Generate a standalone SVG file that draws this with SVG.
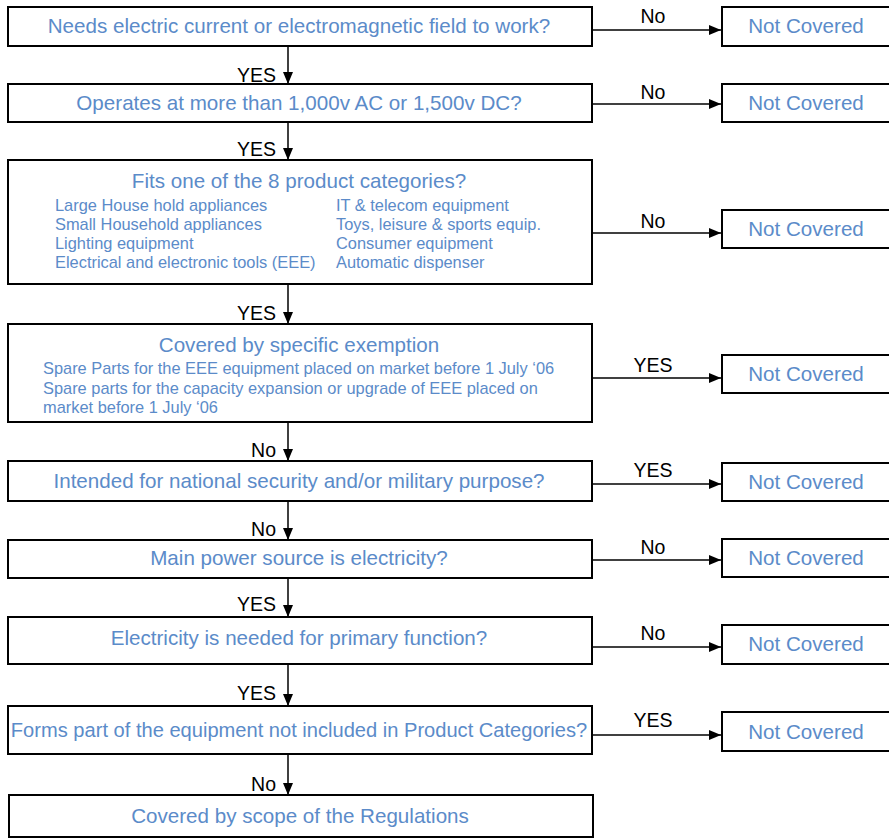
<svg xmlns="http://www.w3.org/2000/svg" width="889" height="838" viewBox="0 0 889 838">
<defs>
<marker id="ah" markerWidth="12" markerHeight="10" refX="12" refY="5" orient="auto" markerUnits="userSpaceOnUse">
<path d="M0,0 L12,5 L0,10 Z" fill="#000"/>
</marker>
<style>
.box{fill:#fff;stroke:#000;stroke-width:2}
.t{font-family:"Liberation Sans",Arial,sans-serif;font-size:20.6px;fill:#5b8bc9;text-anchor:middle}
.s{font-family:"Liberation Sans",Arial,sans-serif;font-size:16.4px;fill:#5b8bc9}
.l{font-family:"Liberation Sans",Arial,sans-serif;font-size:19.5px;fill:#000}
.le{text-anchor:end}
.lm{text-anchor:middle}
.c{stroke:#000;stroke-width:1.5;fill:none;marker-end:url(#ah)}
</style>
</defs>
<g id="q1"><rect class="box" x="8" y="7" width="584" height="39"/><text class="t" x="299" y="33">Needs electric current or electromagnetic field to work?</text></g>
<g id="q2"><rect class="box" x="8" y="84" width="584" height="38"/><text class="t" x="299" y="110">Operates at more than 1,000v AC or 1,500v DC?</text></g>
<g id="q3"><rect class="box" x="8" y="160" width="584" height="124"/><text class="t" x="299" y="188">Fits one of the 8 product categories?</text>
<text class="s" x="55" y="211">Large House hold appliances</text>
<text class="s" x="55" y="230">Small Household appliances</text>
<text class="s" x="55" y="249">Lighting equipment</text>
<text class="s" x="55" y="268">Electrical and electronic tools (EEE)</text>
<text class="s" x="336" y="211">IT &amp; telecom equipment</text>
<text class="s" x="336" y="230">Toys, leisure &amp; sports equip.</text>
<text class="s" x="336" y="249">Consumer equipment</text>
<text class="s" x="336" y="268">Automatic dispenser</text></g>
<g id="q4"><rect class="box" x="8" y="324" width="584" height="98"/><text class="t" x="299" y="352">Covered by specific exemption</text>
<text class="s" x="43" y="374">Spare Parts for the EEE equipment placed on market before 1 July ‘06</text>
<text class="s" x="43" y="394">Spare parts for the capacity expansion or upgrade of EEE placed on</text>
<text class="s" x="43" y="413">market before 1 July ‘06</text></g>
<g id="q5"><rect class="box" x="8" y="461" width="584" height="40"/><text class="t" x="299" y="488">Intended for national security and/or military purpose?</text></g>
<g id="q6"><rect class="box" x="8" y="540" width="584" height="38"/><text class="t" x="299" y="565">Main power source is electricity?</text></g>
<g id="q7"><rect class="box" x="8" y="617" width="584" height="47"/><text class="t" x="299" y="645">Electricity is needed for primary function?</text></g>
<g id="q8"><rect class="box" x="8" y="706" width="584" height="48"/><text class="t" x="299" y="737" style="font-size:20.1px">Forms part of the equipment not included in Product Categories?</text></g>
<g id="end"><rect class="box" x="9" y="795" width="584" height="42"/><text class="t" x="300" y="823">Covered by scope of the Regulations</text></g>
<g id="n1"><rect class="box" x="722" y="7" width="180" height="39"/><text class="t" x="806" y="33">Not Covered</text></g>
<g id="n2"><rect class="box" x="722" y="84" width="180" height="38"/><text class="t" x="806" y="110">Not Covered</text></g>
<g id="n3"><rect class="box" x="722" y="210" width="180" height="38"/><text class="t" x="806" y="236">Not Covered</text></g>
<g id="n4"><rect class="box" x="722" y="355" width="180" height="38"/><text class="t" x="806" y="381">Not Covered</text></g>
<g id="n5"><rect class="box" x="722" y="463" width="180" height="38"/><text class="t" x="806" y="489">Not Covered</text></g>
<g id="n6"><rect class="box" x="722" y="539" width="180" height="38"/><text class="t" x="806" y="565">Not Covered</text></g>
<g id="n7"><rect class="box" x="722" y="625" width="180" height="39"/><text class="t" x="806" y="651">Not Covered</text></g>
<g id="n8"><rect class="box" x="722" y="712" width="180" height="39"/><text class="t" x="806" y="739">Not Covered</text></g>
<g id="connectors">
<path class="c" d="M288,46 V84"/><text class="l le" x="276" y="82">YES</text>
<path class="c" d="M288,122 V160"/><text class="l le" x="276" y="156">YES</text>
<path class="c" d="M288,284 V324"/><text class="l le" x="276" y="320">YES</text>
<path class="c" d="M288,422 V461"/><text class="l le" x="276" y="457">No</text>
<path class="c" d="M288,501 V540"/><text class="l le" x="276" y="536">No</text>
<path class="c" d="M288,578 V617"/><text class="l le" x="276" y="611">YES</text>
<path class="c" d="M288,664 V706"/><text class="l le" x="276" y="700">YES</text>
<path class="c" d="M288,754 V795"/><text class="l le" x="276" y="791">No</text>
<path class="c" d="M592,30 H721"/><text class="l lm" x="653" y="23">No</text>
<path class="c" d="M592,104 H721"/><text class="l lm" x="653" y="99">No</text>
<path class="c" d="M592,233 H721"/><text class="l lm" x="653" y="228">No</text>
<path class="c" d="M592,378 H721"/><text class="l lm" x="653" y="372">YES</text>
<path class="c" d="M592,484 H721"/><text class="l lm" x="653" y="477">YES</text>
<path class="c" d="M592,560 H721"/><text class="l lm" x="653" y="554">No</text>
<path class="c" d="M592,647 H721"/><text class="l lm" x="653" y="640">No</text>
<path class="c" d="M592,735 H721"/><text class="l lm" x="653" y="727">YES</text>
</g>
</svg>
